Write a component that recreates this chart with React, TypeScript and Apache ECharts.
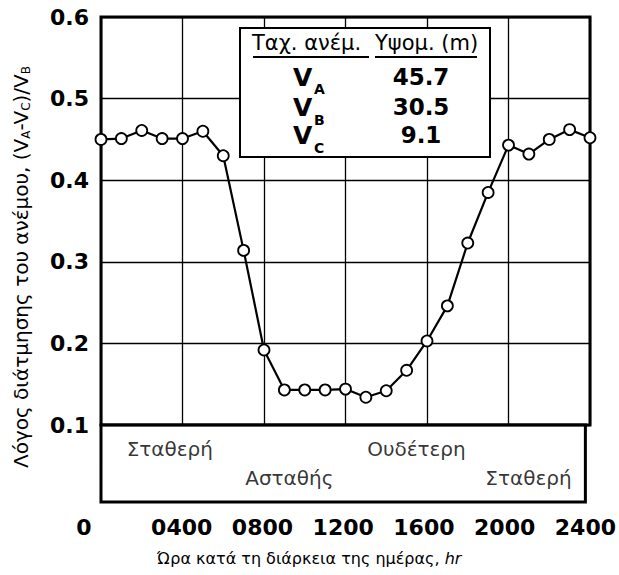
import React, { useEffect, useRef } from 'react';
import * as echarts from 'echarts';

// Hour of day (hr) and wind shear ratio (VA - VC) / VB
const hours = [0, 100, 200, 300, 400, 500, 600, 700, 800, 900, 1000, 1100, 1200, 1300, 1400, 1500, 1600, 1700, 1800, 1900, 2000, 2100, 2200, 2300, 2400];
const ratio = [0.45, 0.451, 0.461, 0.451, 0.451, 0.46, 0.43, 0.314, 0.192, 0.143, 0.143, 0.143, 0.144, 0.134, 0.142, 0.167, 0.203, 0.246, 0.323, 0.385, 0.443, 0.432, 0.45, 0.462, 0.452];

// Legend table
const tableHeaders = ['Ταχ. ανέμ.', 'Υψομ. (m)'];
const tableSpeeds = ['A', 'B', 'C'];
const tableHeights = ['45.7', '30.5', '9.1'];

// Stability band labels
const bandLabels = ['Σταθερή', 'Ασταθής', 'Ουδέτερη', 'Σταθερή'];
const bandHours = [341, 933, 1563, 2118];
const bandRows = [0.69, 0.31, 0.69, 0.31];

const xTickStep = 400;
const yTickStep = 0.1;

const REG = '"DejaVu Sans", sans-serif';

export default function App() {
  const ref = useRef<HTMLDivElement>(null);
  useEffect(() => {
    if (!ref.current) return;
    const chart = echarts.init(ref.current, null, { renderer: 'svg' });
    const gridStyle = { show: true, borderColor: '#000', borderWidth: 3, backgroundColor: '#fff' };
    const rowY = [77, 107, 135];
    const subY = [89, 120, 148];
    const graphic: any[] = [
      {
        type: 'rect', z: 10,
        shape: { x: 240, y: 28, width: 250, height: 129 },
        style: { fill: '#fff', stroke: '#000', lineWidth: 2 },
      },
      {
        type: 'text', z: 11, x: 252, y: 43,
        style: { text: tableHeaders[0], fontFamily: REG, fontSize: 21, fill: '#000', align: 'left', verticalAlign: 'middle', textAlign: 'left', textVerticalAlign: 'middle' },
      },
      {
        type: 'text', z: 11, x: 375, y: 43,
        style: { text: tableHeaders[1], fontFamily: REG, fontSize: 21, fill: '#000', align: 'left', verticalAlign: 'middle', textAlign: 'left', textVerticalAlign: 'middle' },
      },
      { type: 'line', z: 11, shape: { x1: 253, y1: 57, x2: 369, y2: 57 }, style: { stroke: '#000', lineWidth: 2 } },
      { type: 'line', z: 11, shape: { x1: 375, y1: 57, x2: 477, y2: 57 }, style: { stroke: '#000', lineWidth: 2 } },
      {
        type: 'text', z: 11, x: 21, y: 267, rotation: Math.PI / 2,
        style: {
          text: 'Λόγος διάτμησης του ανέμου, (V{s|A}-V{s|C})/V{s|B}',
          fontFamily: REG, fontSize: 20, fill: '#000',
          align: 'center', verticalAlign: 'middle', textAlign: 'center', textVerticalAlign: 'middle',
          rich: { s: { fontFamily: REG, fontSize: 12, fill: '#000', padding: [10, 0, 0, 0] } },
        },
      },
    ];
    tableSpeeds.forEach((s, i) => {
      graphic.push({
        type: 'text', z: 11, x: 293, y: rowY[i],
        style: { text: 'V', fontFamily: REG, fontWeight: 'bold', fontSize: 25, fill: '#000', align: 'left', verticalAlign: 'middle', textAlign: 'left', textVerticalAlign: 'middle' },
      });
      graphic.push({
        type: 'text', z: 11, x: 314, y: subY[i],
        style: { text: s, fontFamily: REG, fontWeight: 'bold', fontSize: 14, fill: '#000', align: 'left', verticalAlign: 'middle', textAlign: 'left', textVerticalAlign: 'middle' },
      });
      graphic.push({
        type: 'text', z: 11, x: 421, y: rowY[i],
        style: { text: tableHeights[i], fontFamily: REG, fontWeight: 'bold', fontSize: 23, fill: '#000', align: 'center', verticalAlign: 'middle', textAlign: 'center', textVerticalAlign: 'middle' },
      });
    });

    chart.setOption({
      animation: false,
      grid: [
        { left: 101, top: 17, width: 489, height: 408, ...gridStyle },
        { left: 101, top: 425, width: 489, height: 77, ...gridStyle },
      ],
      xAxis: [
        {
          gridIndex: 0, type: 'value', min: 0, max: 2400, interval: xTickStep,
          axisLabel: { show: false }, axisTick: { show: false }, axisLine: { show: false },
          splitLine: { show: true, lineStyle: { color: '#000', width: 1.3 } },
        },
        {
          gridIndex: 1, type: 'value', min: 0, max: 2400, interval: xTickStep,
          axisTick: { show: false }, axisLine: { show: false }, splitLine: { show: false },
          axisLabel: {
            margin: 14, color: '#000', fontFamily: REG, fontWeight: 'bold', fontSize: 22,
            formatter: (v: number) => (v === 0 ? '{z|0}' : String(v).padStart(4, '0')),
            rich: { z: { fontFamily: REG, fontWeight: 'bold', fontSize: 22, color: '#000', padding: [0, 34, 0, 0] } },
          },
          name: 'Ώρα κατά τη διάρκεια της ημέρας, {i|hr}',
          nameLocation: 'middle', nameGap: 48,
          nameTextStyle: {
            fontFamily: REG, fontSize: 16, color: '#000', padding: [0, 68, 0, 0],
            rich: { i: { fontFamily: REG, fontSize: 16, fontStyle: 'italic', color: '#000' } },
          },
        },
      ],
      yAxis: [
        {
          gridIndex: 0, type: 'value', min: 0.1, max: 0.6, interval: yTickStep,
          axisTick: { show: false }, axisLine: { show: false },
          splitLine: { show: true, lineStyle: { color: '#000', width: 1.3 } },
          axisLabel: {
            margin: 12, color: '#000', fontFamily: REG, fontWeight: 'bold', fontSize: 22,
            formatter: (v: number) => v.toFixed(1),
          },
        },
        { gridIndex: 1, type: 'value', min: 0, max: 1, show: false },
      ],
      series: [
        {
          type: 'line', xAxisIndex: 0, yAxisIndex: 0, z: 5,
          data: hours.map((h, i) => [h, ratio[i]]),
          symbol: 'circle', symbolSize: 11,
          itemStyle: { color: '#fff', borderColor: '#000', borderWidth: 1.8 },
          lineStyle: { color: '#000', width: 2.2 },
          silent: true,
        },
        {
          type: 'scatter', xAxisIndex: 1, yAxisIndex: 1, silent: true,
          symbolSize: 1, itemStyle: { color: 'rgba(0,0,0,0)' },
          data: bandHours.map((h, i) => ({ value: [h, bandRows[i]], name: bandLabels[i] })),
          label: { show: true, position: 'inside', formatter: '{b}', fontFamily: REG, fontSize: 20, color: '#000' },
        },
      ],
      graphic,
    });
    return () => chart.dispose();
  }, []);
  return <div ref={ref} style={{ position: 'absolute', left: 0, top: 0, width: 619, height: 575, background: '#fff' }} />;
}
